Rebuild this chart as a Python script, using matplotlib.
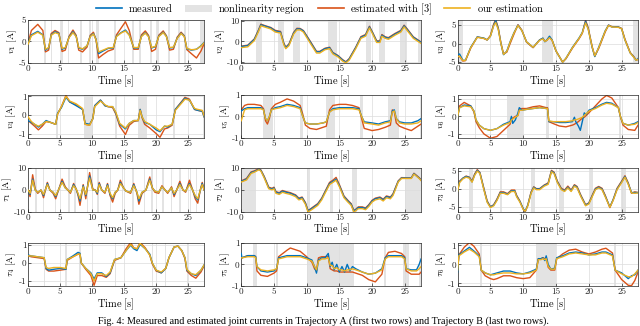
import matplotlib
matplotlib.use('Agg')
import matplotlib.pyplot as plt
from matplotlib.ticker import FuncFormatter
from matplotlib.lines import Line2D
from matplotlib.patches import Patch

plt.rcParams['mathtext.fontset'] = 'cm'
plt.rcParams['axes.unicode_minus'] = False

# colours (MATLAB default order)
c_meas = '#0072BD'
c_est = '#D95319'
c_ours = '#EDB120'
c_region = '#e3e3e3'

# ---------- Trajectory A, joint 1 ----------
t_a1 = [0, 0.5, 1.5, 2.3, 2.7, 3.2, 3.6, 4.2, 4.8, 5.3, 5.8, 6.4, 7.0, 7.5, 7.9, 8.5, 9.2, 9.7, 10.2, 10.6,
        11.0, 11.7, 12.5, 13.3, 13.8, 14.5, 15.2, 15.8, 16.5, 17.2, 17.7, 18.3, 18.8, 19.3, 19.9, 20.4, 21.1,
        21.6, 22.1, 22.7, 23.3, 23.9, 24.4, 24.8, 25.5, 26.3, 27.0, 27.5]
meas_a1 = [-0.5, 1.5, 2.3, 1.5, -2.0, -1.5, 1.5, 2.2, 1.8, -1.8, -1.5, 1.0, 2.2, 1.2, -1.5, -1.8, -1.0, 1.2, 1.8, 0.5,
           -2.8, -2.2, -1.6, -1.5, 1.2, 2.0, 2.6, 1.5, -1.5, -1.5, 1.2, 2.0, 1.2, -1.5, -1.2, 1.2, 2.1,
           1.2, -1.5, -1.4, 0.8, 1.9, 1.2, -1.7, -2.0, -1.8, -1.0, -0.2]
est_a1 = [-0.3, 2.5, 3.9, 2.5, -2.4, -2.0, 1.8, 2.5, 2.0, -2.3, -2.0, 1.2, 2.6, 1.4, -2.0, -2.4, -1.3, 1.4, 2.1, 0.4,
          -3.8, -3.0, -2.2, -1.8, 1.5, 3.0, 4.5, 2.5, -1.8, -1.8, 1.5, 2.4, 1.4, -2.3, -1.8, 1.4, 2.4,
          1.3, -2.0, -1.8, 1.0, 2.1, 1.3, -1.9, -2.8, -3.8, -2.2, -0.5]
ours_a1 = [-0.6, 1.3, 2.1, 1.4, -1.8, -1.4, 1.4, 2.0, 1.7, -1.6, -1.4, 0.9, 2.0, 1.1, -1.4, -1.7, -1.0, 1.1, 1.7, 0.4,
           -2.4, -2.0, -1.5, -1.4, 1.1, 1.9, 2.4, 1.4, -1.4, -1.4, 1.1, 1.9, 1.1, -1.4, -1.1, 1.1, 2.0,
           1.1, -1.4, -1.3, 0.7, 1.8, 1.1, -1.6, -1.9, -1.8, -1.1, -0.3]
reg_a1 = [(2.5, 2.8), (3.5, 3.8), (5.2, 5.5), (6.2, 6.4), (8.1, 8.4), (9.5, 9.8), (10.6, 11.1), (13.4, 13.8),
          (16.3, 16.6), (17.3, 17.6), (19.1, 19.4), (20.2, 20.5), (21.9, 22.1), (23.4, 23.7), (24.4, 24.6),
          (26.9, 27.5)]

# ---------- Trajectory A, joint 2 ----------
t_a2 = [0, 1, 2, 2.6, 3, 3.5, 4.5, 5.2, 6, 6.5, 6.8, 7.3, 8, 8.5, 9, 9.5, 10.5, 11.5, 12, 12.8, 13.5, 14,
        14.8, 15.5, 16, 16.5, 17.5, 18.3, 19, 19.6, 20.1, 20.7, 21.2, 21.5, 22, 22.5, 23.5, 24.4, 24.9, 25.3,
        26.3, 27.5]
meas_a2 = [-2.5, -2, 1, 5, 8, 7.5, 6.5, 5, 4.5, -1, -3, -1.5, 4, 6, 6, 5, 0, -5, -5, -3.5, -3, -5.5,
           -7, -9, -10, -8.5, -3, 2, 3, 7, 4, 0, 0, 3, 2, 1.5, 3.5, 5, 7.5, 6, 2, -0.5]
est_a2 = [-2.3, -1.8, 1.2, 5.3, 8.3, 7.7, 6.7, 5.3, 4.8, -0.8, -2.8, -1.2, 4.3, 6.3, 6.2, 5.2, 0.3, -4.8, -4.8,
          -3.3, -2.8, -5.3, -6.8, -8.8, -9.8, -8.3, -2.8, 2.3, 3.3, 7.3, 4.2, 0.3, 0.2, 3.3, 2.2, 1.8, 3.8,
          5.3, 7.8, 6.3, 2.2, -0.3]
ours_a2 = [-3, -2.6, 0.4, 4.5, 7.5, 7, 6, 4.5, 4, -1.6, -3.5, -2, 3.5, 5.5, 5.5, 4.5, -0.6, -5.6, -5.6, -4,
           -3.5, -6, -7.5, -9.5, -10.3, -9, -3.5, 1.5, 2.5, 6.5, 3.5, -0.5, -0.5, 2.5, 1.5, 1, 3, 4.5, 7,
           5.5, 1.5, -1]
reg_a2 = [(2.2, 3.1), (5.6, 6.6), (7.9, 9.0), (13.3, 14.6), (19.0, 19.8), (21.0, 22.0), (24.3, 25.3),
          (27.0, 27.5)]

# ---------- Trajectory A, joint 3 ----------
t_a3 = [0, 0.3, 0.8, 1.2, 2, 3, 4, 4.5, 5, 5.5, 5.8, 6.2, 6.6, 7, 7.5, 8, 8.6, 9.2, 9.8, 10.5, 11.5, 12.5,
        13, 13.3, 13.6, 14, 14.4, 15, 15.5, 16, 16.5, 17.5, 18.5, 19, 19.5, 19.9, 20.5, 20.9, 21.5, 22.5, 23,
        23.5, 24.5, 25, 25.5, 26.3, 26.8, 27.2, 27.5]
meas_a3 = [-3, -2.8, -4.5, -4.5, -1, 1.8, 1.5, 1, 2, 5, 6.2, 4, 0, -3, -2, 0.5, 3, 5, 3.5, 0.5, -1, 1,
           1.5, 0.5, 1, 2, 1, -2, -3.5, -5, -4, -1, 1.5, 3, 6, 4, -1, -3.5, -1, 3.5, 5,
           4.5, 4.5, 4, 1, -2.5, -3.5, -4.5, -4]
est_a3 = [-3.3, -3.5, -4.7, -4.6, -1.2, 1.8, 1.4, 1, 2.2, 5.3, 6.5, 4.2, 0.2, -2.8, -2.3, 0, 2.6, 5.1, 3.6,
          0.4, -1.1, 1, 1.4, 0.6, 0.9, 1.8, 0.9, -2, -3.5, -5, -4.1, -1.2, 1.3, 2.8, 6.3, 4.3, -0.8, -3.4,
          -1.3, 3.2, 5, 4.6, 4.5, 4.1, 1.2, -2.4, -3.4, -4.4, -4.3]
ours_a3 = [-3.5, -3.4, -4.6, -4.5, -1.1, 1.7, 1.4, 1, 2, 4.8, 5.7, 3.8, 0, -2.9, -2.1, 0.4, 2.9, 4.9, 3.5,
           0.5, -1, 0.9, 1.3, 0.6, 0.9, 1.6, 0.9, -2, -3.5, -5, -4, -1.1, 1.4, 2.9, 5.6, 3.9, -0.9, -3.3,
           -1.1, 3.4, 4.9, 4.5, 4.4, 4, 1, -2.5, -3.6, -4.5, -4.2]
reg_a3 = [(0, 0.8), (12.8, 14.5), (26.8, 27.5)]

# ---------- Trajectory A, joint 4 ----------
t_a4 = [0, 0.5, 1, 1.6, 2.2, 2.8, 3.5, 4.3, 4.6, 5.2, 5.9, 6.5, 7.5, 8.5, 8.9, 9.6, 10.1, 10.4, 11.3, 12,
        12.5, 13.2, 13.7, 14.3, 15.2, 15.8, 16.5, 17.2, 17.5, 17.8, 18.2, 19, 20, 20.6, 21.3, 21.8, 22.5, 23,
        24.5, 25.2, 26, 26.5, 27.2, 27.5]
meas_a4 = [-0.3, -0.4, -0.5, -0.65, -0.5, -0.3, -0.4, -0.5, 0.1, 0.4, 0.95, 0.7, 0.5, 0.3, -0.45, -0.5,
           -0.2, 0.5, 0.8, 0.5, 0.45, 0.45, 0.1, -0.5, -0.75, -0.45, -0.3, -0.3, 0.3, -0.1, -0.4, -0.5,
           -0.8, -0.9, -0.6, -0.65, -0.5, 0.3, 0.9, 0.8, 0.3, 0.25, 0.2, -0.1]
est_a4 = [-0.3, -0.45, -0.6, -0.8, -0.6, -0.35, -0.4, -0.5, 0.05, 0.45, 1.05, 0.7, 0.55, 0.3, -0.5, -0.55,
          -0.2, 0.5, 0.8, 0.5, 0.45, 0.4, 0.05, -0.6, -1.05, -0.55, -0.35, -0.3, 0.3, -0.15, -0.5, -0.7,
          -1.0, -1.2, -0.75, -0.7, -0.55, 0.3, 0.95, 0.85, 0.3, 0.25, 0.2, -0.1]
ours_a4 = [-0.1, -0.35, -0.5, -0.6, -0.5, -0.35, -0.4, -0.5, 0.05, 0.45, 1.0, 0.75, 0.6, 0.35, -0.5, -0.55,
           -0.2, 0.45, 0.75, 0.55, 0.45, 0.45, 0.15, -0.45, -0.7, -0.45, -0.3, -0.3, 0.25, -0.1, -0.35, -0.5,
           -0.7, -0.85, -0.6, -0.6, -0.5, 0.25, 0.85, 0.8, 0.35, 0.3, 0.25, -0.05]
reg_a4 = [(4.4, 4.6), (8.8, 10.2), (13.6, 13.9), (17.1, 18.6), (22.7, 23.0), (27.3, 27.5)]

# ---------- Trajectory A, joint 5 ----------
t_a5 = [0, 0.5, 1, 2, 3, 3.4, 3.7, 4, 4.3, 4.6, 5.2, 6, 7, 8, 9, 9.4, 9.8, 10.5, 11.5, 12.5, 13, 13.5, 14,
        15, 16, 17, 18, 18.4, 18.8, 20, 21, 22, 22.8, 23.1, 23.4, 23.7, 24.2, 25, 26, 27, 27.5]
meas_a5 = [0.25, 0.35, 0.4, 0.4, 0.4, 0.3, -0.1, -0.2, 0, 0.3, 0.4, 0.45, 0.55, 0.5, 0.4, 0, -0.3, -0.35,
           -0.35, -0.3, -0.25, 0.2, 0.35, 0.4, 0.4, 0.4, 0.35, 0, -0.25, -0.3, -0.35, -0.25, -0.2, 0.25,
           0.3, -0.1, -0.25, -0.3, -0.3, -0.2, -0.1]
est_a5 = [0.3, 0.5, 0.55, 0.55, 0.5, 0.35, -0.2, -0.35, -0.1, 0.35, 0.55, 0.65, 0.8, 0.7, 0.5, 0.1, -0.4,
          -0.55, -0.6, -0.5, -0.45, 0.3, 0.5, 0.55, 0.55, 0.5, 0.4, -0.1, -0.55, -0.65, -0.6, -0.5, -0.4,
          0.3, 0.2, -0.3, -0.45, -0.55, -0.65, -0.45, -0.35]
ours_a5 = [-0.2, 0.3, 0.35, 0.35, 0.35, 0.3, -0.1, -0.2, 0, 0.3, 0.35, 0.4, 0.5, 0.45, 0.35, 0, -0.3, -0.35,
           -0.35, -0.3, -0.25, 0.2, 0.3, 0.35, 0.35, 0.35, 0.3, 0, -0.3, -0.35, -0.4, -0.3, -0.25, 0.2,
           0.25, -0.1, -0.3, -0.35, -0.35, -0.3, -0.2]
reg_a5 = [(3.3, 4.9), (9.0, 9.4), (13.0, 14.4), (18.1, 18.6), (22.4, 24.1), (27.3, 27.5)]

# ---------- Trajectory A, joint 6 ----------
t_a6 = [0, 0.3, 1, 2, 2.5, 2.8, 3.3, 4, 5, 6, 7, 8, 8.2, 8.4, 8.8, 9.2, 9.4, 9.8, 10.5, 11.5, 12.5, 13.5,
        13.7, 13.9, 14.5, 15.5, 16.5, 17.5, 17.8, 18, 18.4, 18.7, 19, 19.3, 19.6, 20, 21, 22, 22.7, 23.5,
        24.5, 24.8, 25.2, 26, 27, 27.5]
meas_a6 = [0, 0.5, 0.65, 0.6, 0.3, -0.2, -0.5, -0.7, -0.8, -0.7, -0.45, -0.3, 0, -0.4, -0.2, 0.2, 0.5, 0.35,
           0.4, 0.45, 0.5, 0.45, 0.45, -0.3, -0.3, -0.35, -0.35, -0.3, -0.05, -0.3, -0.55, -0.8, -0.3, 0.2,
           0.1, 0.35, 0.5, 0.7, 0.8, 0.75, 0.5, 0, -0.4, -0.5, -0.4, -0.3]
est_a6 = [0, 0.6, 0.8, 0.6, 0.25, -0.3, -0.65, -1.0, -1.25, -1.15, -0.8, -0.45, -0.15, -0.1, 0, 0.05, 0.4,
          0.45, 0.45, 0.55, 0.6, 0.5, 0.5, -0.3, -0.4, -0.55, -0.6, -0.5, -0.45, -0.4, -0.3, -0.2, -0.1,
          -0.05, 0.05, 0.2, 0.6, 1.0, 1.2, 1.05, 0.5, 0, -0.5, -0.75, -0.8, -0.5]
ours_a6 = [0, 0.5, 0.6, 0.55, 0.3, -0.2, -0.5, -0.7, -0.8, -0.7, -0.5, -0.35, -0.2, -0.15, -0.05, 0.05, 0.35,
           0.35, 0.4, 0.45, 0.5, 0.45, 0.45, -0.25, -0.3, -0.3, -0.3, -0.25, -0.2, -0.2, -0.15, -0.1, -0.05,
           0.05, 0.15, 0.3, 0.45, 0.65, 0.75, 0.7, 0.5, 0, -0.4, -0.5, -0.45, -0.35]
reg_a6 = [(2.6, 2.8), (7.5, 10.0), (13.5, 13.9), (17.2, 19.8), (24.6, 24.9)]

# ---------- Trajectory B, joint 1 ----------
t_b1 = [0, 0.3, 0.7, 1.1, 1.5, 2, 2.4, 3, 3.4, 3.9, 4.3, 4.8, 5.3, 5.8, 6.2, 6.6, 7.1, 7.5, 7.8, 8.1, 8.6,
        9, 9.6, 10.1, 10.5, 10.8, 11.1, 11.5, 12, 12.4, 12.8, 13.2, 13.6, 14, 14.4, 14.9, 15.3, 16, 16.5,
        17, 17.3, 17.8, 18.4, 19, 19.4, 19.8, 20.4, 20.9, 21.4, 21.8, 22.4, 22.8, 23.2, 23.7, 24.2, 24.6,
        25.2, 25.7, 26.1, 26.5, 26.9, 27.2, 27.5]
meas_b1 = [0, -2, 5, 0, -1, 0, -2.5, 3, 0, -1, -3, 0.5, 4, 1, 0, -1, 2.5, 0.5, -2, -5, 2,
           -2.5, 6.5, 0, 0, -1.5, 3, 0, -1, 2.5, -2, -4, -1, 0, 3.5, 1, -0.5, -1, 2.5,
           -1, -5, -1, 0, 5, 1, -0.5, -1, 1.5, 0, -1, 1, -2, 0, 3, 0, -0.5,
           3, 0, -3, -4.5, 0, 3, 0]
est_b1 = [0, -3, 7, 0.5, -1.5, 0, -3.5, 3.5, 0, -1.5, -4, 0.5, 5, 1.5, 0, -1.5, 3, 0.5, -2.5, -7, 2.5,
          -4, 8, 0.5, 0, -2, 3.5, 0, -1.5, 3, -2.5, -5.5, -1.5, 0, 4.5, 1, -0.5, -1.5, 3,
          -1.5, -6.5, -1.5, 0, 6, 1, -1, -1.5, 2, 0, -1.5, 1.5, -3, 0, 4, 0, -1,
          4.5, 0, -4, -6, 0, 3.5, 0]
ours_b1 = [0, -1.5, 4.5, 0, -1, 0, -2, 2.5, 0, -1, -2.5, 0.5, 3.5, 1, 0, -1, 2, 0.5, -1.5, -4, 1.5,
           -2, 5.5, 0, 0, -1, 2.5, 0, -1, 2, -1.5, -3.5, -1, 0, 3, 1, -0.5, -1, 2,
           -1, -4, -1, 0, 4.5, 1, -0.5, -1, 1.5, 0, -1, 1, -1.5, 0, 2.5, 0, -0.5,
           2.5, 0, -2.5, -4, 0, 2.5, 0]
reg_b1 = [(1.1, 1.4), (2.3, 2.5), (4.2, 4.4), (6.3, 6.5), (7.2, 7.4), (9.2, 9.4), (10.8, 11.0), (12.8, 13.0),
          (14.6, 14.8), (16.3, 16.5), (18.1, 18.3), (19.2, 19.5), (20.9, 21.2), (22.3, 22.5), (23.6, 23.9),
          (25.3, 25.5), (26.2, 26.4)]

# ---------- Trajectory B, joint 2 ----------
t_b2 = [0, 0.8, 1.5, 2, 2.7, 3, 3.5, 4.2, 4.7, 5, 5.3, 5.8, 6.3, 6.8, 7.5, 8.3, 8.8, 9.3, 9.8, 10.2, 10.5,
        11, 11.7, 12.3, 12.8, 13.5, 14, 14.5, 15, 15.7, 16.3, 16.8, 17.2, 17.5, 17.9, 18.5, 19, 19.5, 20,
        20.5, 21.2, 21.7, 22.2, 22.8, 23.2, 23.6, 24, 24.5, 25.5, 26, 26.4, 26.8, 27.2, 27.5]
meas_b2 = [4, 5, 8, 8.5, 9.5, 9, 6, 1, 0.5, 1, -1, -1.5, -0.5, -1, -1.5, -2.5, -4, -3.5, -6, -9.5, -9,
           -8, -6.5, -4, -1, 3, 4, 5, 2, -3, -5, -6.5, -9.5, -9, -8, -8, -8.5, -7, -5,
           -4, -3.5, -4.5, -3, -3.5, -2, 1, 4, 5.5, 5.5, 5.5, 7.5, 6.5, 5.5, 4.5]
est_b2 = [4.2, 5.3, 8.3, 8.8, 9.8, 9.2, 6.3, 1.3, 0.8, 1.3, -0.7, -1.2, -0.2, -0.7, -1.2, -2.2, -3.7, -3.2,
          -5.7, -9.3, -8.8, -7.7, -6.2, -3.7, -0.7, 3.5, 4.5, 5.8, 2.5, -2.7, -4.7, -6.2, -9.3, -8.8, -7.7,
          -7.7, -8.2, -6.7, -4.7, -3.7, -3.2, -4.2, -2.7, -3.2, -1.7, 1.3, 4.2, 5.7, 5.6, 5.6, 7.7, 6.7,
          5.7, 4.7]
ours_b2 = [3.7, 4.6, 7.6, 8.2, 9.3, 8.7, 5.6, 0.6, 0.1, 0.6, -1.5, -2, -1, -1.5, -2, -3, -4.5, -4, -6.5,
           -10, -9.5, -8.5, -7, -4.5, -1.5, 2.5, 3.5, 4.5, 1.5, -3.5, -5.5, -7, -10, -9.5, -8.5, -8.5, -9,
           -7.5, -5.5, -4.5, -4, -5, -3.5, -4, -2.5, 0.5, 3.7, 5.3, 5.3, 5.3, 7.3, 6.3, 5.3, 4.3]
reg_b2 = [(0, 2.3), (10.0, 10.5), (13.6, 14.1), (17.0, 17.7), (25.0, 27.5)]

# ---------- Trajectory B, joint 3 ----------
t_b3 = [0, 0.3, 0.8, 1.3, 1.8, 2.2, 2.6, 3, 3.4, 4, 4.5, 5, 5.5, 6, 6.5, 7, 7.6, 8.2, 8.7, 9, 9.5, 10,
        10.3, 10.7, 11.2, 11.6, 12, 12.5, 13.2, 13.8, 14.3, 14.7, 15.2, 15.8, 16.3, 16.8, 17.3, 17.8, 18.2,
        18.8, 19.5, 20, 20.5, 21, 21.5, 22, 22.5, 23.2, 23.7, 24.3, 25, 25.5, 26, 26.5, 27, 27.5]
meas_b3 = [-0.5, 2, 3, 3.5, 3.2, 2, 4, 5.2, 4.5, 0, -3.5, -5, -4.5, -3, -1, -1, -1.5, -0.5, -0.5, -2, -3.5,
           -5.5, -6.2, -4.5, -1, 0.5, 0, 0, 1, 1.5, 5, 4.5, 2, 0, -0.5, 0.5, -0.5, 1, 0.5,
           -2, -4.5, -4, -2, 0, 0.5, 0, -2, -5, -3, 0, 2, 3.5, 1.5, -1, -1, -1]
est_b3 = [-0.3, 2.2, 3, 3.6, 3.3, 2.2, 4.2, 5.4, 4.6, 0.2, -3.3, -5, -4.4, -2.8, -0.8, -0.8, -1.3, -0.3,
          -0.3, -1.8, -3.4, -5.6, -6.4, -4.5, -0.8, 0.6, 0.1, 0.1, 1.1, 1.7, 5.2, 4.7, 2.2, 0.2, -0.3, 0.8,
          -0.3, 1.2, 0.7, -1.8, -4.4, -3.9, -1.8, 0.2, 0.7, 0.2, -1.8, -5.2, -3, 0.2, 2.2, 3.7, 1.7, -1.2,
          -0.8, -1]
ours_b3 = [-0.6, 1.8, 2.8, 3.3, 3.0, 1.9, 3.8, 5.0, 4.3, -0.2, -3.7, -5.2, -4.7, -3.2, -1.2, -1.2, -1.6, -0.7,
           -0.7, -2.2, -3.7, -5.7, -6.2, -4.7, -1.2, 0.3, -0.2, -0.2, 0.8, 1.3, 4.8, 4.3, 1.8, -0.2, -0.7,
           0.3, -0.7, 0.8, 0.3, -2.2, -4.7, -4.2, -2.2, -0.2, 0.3, -0.2, -2.2, -5.1, -3.2, -0.2, 1.8, 3.3,
           1.3, -1.1, -1.2, -1.1]
reg_b3 = [(1.8, 2.3), (6.5, 6.8), (11.2, 11.8), (15.5, 16.2), (20.2, 20.7), (24.9, 25.6)]

# ---------- Trajectory B, joint 4 ----------
t_b4 = [0, 0.5, 1.5, 2.5, 2.8, 3.2, 4, 5, 5.9, 6.1, 7, 7.8, 8.1, 8.3, 9, 9.8, 10.3, 10.8, 11.5, 12.2, 12.8,
        13.5, 14.5, 15.3, 16, 16.5, 17, 17.5, 18.3, 19, 19.4, 20, 20.8, 21.5, 22, 22.8, 23.4, 24, 24.5, 24.8,
        25.5, 26.2, 27, 27.5]
meas_b4 = [0.45, 0.4, 0.35, 0.3, -0.3, -0.4, -0.35, -0.3, -0.35, 0.2, 0.4, 0.6, 0.55, 0, -0.3, -0.55, -0.9,
           -0.55, -0.55, -0.75, -0.55, 0.2, 0.3, 0.7, 1.0, 0.8, 0.7, 1.05, 0.8, 0.5, 0, -0.4, -0.55, -0.3,
           0.3, 0.9, 0.95, 0.7, 0.3, -0.4, -0.6, -0.7, -0.4, -0.1]
est_b4 = [0.4, 0.35, 0.3, 0.25, -0.35, -0.45, -0.45, -0.4, -0.35, 0.15, 0.35, 0.5, 0.5, 0, -0.35, -0.7,
          -1.25, -0.7, -0.7, -0.8, -0.6, 0.15, 0.3, 0.8, 1.15, 0.85, 0.8, 1.15, 0.85, 0.45, -0.05, -0.45,
          -0.55, -0.3, 0.3, 0.9, 0.95, 0.7, 0.25, -0.45, -0.7, -0.85, -0.5, -0.15]
ours_b4 = [0.4, 0.4, 0.35, 0.3, -0.25, -0.3, -0.25, -0.25, -0.3, 0.2, 0.35, 0.5, 0.5, 0, -0.3, -0.6, -1.0,
           -0.6, -0.6, -0.7, -0.5, 0.2, 0.3, 0.7, 1.05, 0.85, 0.8, 1.1, 0.8, 0.45, 0, -0.4, -0.5, -0.3,
           0.3, 0.9, 0.95, 0.7, 0.3, -0.35, -0.6, -0.65, -0.4, -0.1]
reg_b4 = [(2.5, 2.7), (5.8, 6.1), (8.0, 8.2), (13.5, 13.8), (19.3, 19.5), (21.4, 21.6), (24.8, 25.0)]

# ---------- Trajectory B, joint 5 ----------
t_b5 = [0, 0.1, 1, 2, 2.2, 2.4, 3, 4, 5, 5.4, 5.7, 7, 7.5, 9, 10, 10.8, 11.2, 11.5, 11.8, 12.3, 12.8, 13.3,
        13.6, 13.9, 14.2, 14.6, 15, 15.4, 15.8, 16.2, 16.6, 17, 17.5, 18.5, 19.5, 20.5, 21.5, 22, 22.5,
        23.5, 24.5, 25, 25.2, 26, 26.8, 27.2, 27.5]
meas_b5 = [0.5, 0.3, 0.4, 0.4, 0.35, -0.1, -0.3, -0.35, -0.3, -0.2, 0.3, 0.4, 0.4, 0.4, 0.3, 0.2, -0.1, -0.4,
           0.2, 0.3, 0.3, 0.5, -0.1, 0.1, -0.25, 0, -0.35, -0.1, -0.35, 0, -0.3, -0.1, -0.2, -0.35, -0.45,
           -0.4, -0.2, 0.3, 0.4, 0.4, 0.4, 0.3, -0.2, -0.25, -0.25, 0, 0.25]
est_b5 = [0.3, 0.3, 0.4, 0.4, 0.35, -0.3, -0.5, -0.55, -0.4, -0.3, 0.35, 0.65, 0.75, 0.6, 0.35, 0.1, -0.2,
          -0.3, 0.3, 0.35, 0.35, 0.35, -0.2, -0.25, -0.3, -0.3, -0.35, -0.35, -0.35, -0.35, -0.35, -0.35,
          -0.4, -0.5, -0.7, -0.8, -0.45, 0.3, 0.55, 0.6, 0.5, 0.35, -0.3, -0.45, -0.45, -0.45, -0.35]
ours_b5 = [0.3, 0.3, 0.35, 0.35, 0.3, -0.1, -0.25, -0.3, -0.25, -0.2, 0.25, 0.35, 0.35, 0.35, 0.25, 0.15,
           -0.1, -0.25, 0.15, 0.25, 0.25, 0.3, -0.05, -0.05, -0.2, -0.15, -0.25, -0.25, -0.3, -0.25, -0.25,
           -0.2, -0.25, -0.35, -0.45, -0.4, -0.25, 0.25, 0.35, 0.35, 0.35, 0.25, -0.2, -0.3, -0.3, -0.2, -0.1]
reg_b5 = [(1.8, 2.4), (5.3, 5.6), (10.0, 17.3), (21.8, 22.2), (24.8, 25.6), (27.1, 27.5)]

# ---------- Trajectory B, joint 6 ----------
t_b6 = [0, 0.2, 1, 1.8, 2.5, 3.3, 3.6, 4.2, 5, 5.5, 6, 7, 8, 9, 10, 11, 12, 12.3, 12.7, 13, 13.3, 13.5,
        13.8, 14.2, 14.8, 15.1, 16, 17, 18, 19, 20, 21, 22, 22.6, 23.6, 24, 25, 26, 26.5, 27, 27.5]
meas_b6 = [-0.4, 0.5, 0.7, 0.9, 0.7, 0.45, -0.3, -0.45, -0.55, -0.5, -0.45, -0.35, -0.35, -0.45, -0.5, -0.4,
           -0.25, 0.3, 0.3, 0.35, 0.2, 0.45, 0, -0.25, -0.2, 0.35, 0.45, 0.6, 0.65, 0.6, 0.5, 0.55, 0.65,
           0.65, 0.5, -0.3, -0.45, -0.75, -0.6, -0.55, -0.3]
est_b6 = [-0.3, 0.5, 0.9, 1.15, 0.95, 0.55, -0.3, -0.6, -0.75, -0.8, -0.75, -0.6, -0.6, -0.7, -0.75, -0.7,
          -0.3, 0.3, 0.3, 0.35, 0.3, 0.35, -0.15, -0.3, -0.3, 0.3, 0.55, 0.75, 0.8, 0.65, 0.55, 0.65, 0.8,
          0.85, 0.6, -0.3, -0.8, -1.1, -1.12, -0.85, -0.4]
ours_b6 = [-0.3, 0.45, 0.65, 0.8, 0.65, 0.4, -0.3, -0.45, -0.55, -0.55, -0.5, -0.45, -0.45, -0.5, -0.5, -0.45,
           -0.3, 0.25, 0.25, 0.3, 0.25, 0.3, -0.1, -0.25, -0.25, 0.3, 0.4, 0.55, 0.6, 0.55, 0.5, 0.5, 0.6,
           0.6, 0.45, -0.3, -0.5, -0.65, -0.65, -0.5, -0.3]
reg_b6 = [(3.4, 3.7), (12.0, 15.0), (23.9, 24.2)]

# panel list: (row, col, data..., ylabel, ylim, yticks)
panels = [
    (0, 0, t_a1, meas_a1, est_a1, ours_a1, reg_a1, r'$v_1$', (-5, 5), [-5, 0, 5]),
    (0, 1, t_a2, meas_a2, est_a2, ours_a2, reg_a2, r'$v_2$', (-10.5, 10.5), [-10, 0, 10]),
    (0, 2, t_a3, meas_a3, est_a3, ours_a3, reg_a3, r'$v_3$', (-5.3, 6.5), [-5, 0, 5]),
    (1, 0, t_a4, meas_a4, est_a4, ours_a4, reg_a4, r'$v_4$', (-1.25, 1.1), [-1, 0, 1]),
    (1, 1, t_a5, meas_a5, est_a5, ours_a5, reg_a5, r'$v_5$', (-1, 1), [-1, 0, 1]),
    (1, 2, t_a6, meas_a6, est_a6, ours_a6, reg_a6, r'$v_6$', (-1.25, 1.25), [-1, 0, 1]),
    (2, 0, t_b1, meas_b1, est_b1, ours_b1, reg_b1, r'$\tau_1$', (-10, 10), [-10, 0, 10]),
    (2, 1, t_b2, meas_b2, est_b2, ours_b2, reg_b2, r'$\tau_2$', (-10, 10), [-10, 0, 10]),
    (2, 2, t_b3, meas_b3, est_b3, ours_b3, reg_b3, r'$\tau_3$', (-6.4, 5.8), [-5, 0, 5]),
    (3, 0, t_b4, meas_b4, est_b4, ours_b4, reg_b4, r'$\tau_4$', (-1.3, 1.15), [-1, 0, 1]),
    (3, 1, t_b5, meas_b5, est_b5, ours_b5, reg_b5, r'$\tau_5$', (-1, 1), [-1, 0, 1]),
    (3, 2, t_b6, meas_b6, est_b6, ours_b6, reg_b6, r'$\tau_6$', (-1.15, 1.15), [-1, 0, 1]),
]

fig = plt.figure(figsize=(6.4, 3.26), dpi=100)

lefts = [0.044, 0.377, 0.715]
widths = [0.275, 0.281, 0.282]
bottoms = [0.806, 0.576, 0.350, 0.122]
height = 0.134

# plain hyphen tick labels in the bundled Computer Modern face
tick_fmt = FuncFormatter(lambda v, p: '%g' % v)

for row, col, t, meas, est, ours, regions, ylab, ylim, yticks in panels:
    ax = fig.add_axes([lefts[col], bottoms[row], widths[col], height])
    for a, b in regions:
        ax.axvspan(a, b, color=c_region, lw=0, zorder=0)
    ax.plot(t, meas, color=c_meas, lw=1.0, zorder=3)
    ax.plot(t, est, color=c_est, lw=1.0, zorder=2)
    ax.plot(t, ours, color=c_ours, lw=1.0, zorder=4)
    ax.set_xlim(0, 27.5)
    ax.set_ylim(*ylim)
    ax.set_xticks([0, 5, 10, 15, 20, 25])
    ax.set_yticks(yticks)
    ax.xaxis.set_major_formatter(tick_fmt)
    ax.yaxis.set_major_formatter(tick_fmt)
    ax.grid(True, color='#dcdcdc', lw=0.5, zorder=1)
    ax.set_axisbelow(True)
    ax.tick_params(direction='in', length=2, width=0.5, labelsize=6.6, pad=1.2, colors='#262626')
    for lbl in ax.get_xticklabels() + ax.get_yticklabels():
        lbl.set_fontfamily('cmr10')
    for s in ax.spines.values():
        s.set_linewidth(0.5)
        s.set_color('#262626')
    ax.set_xlabel(r'$\mathrm{Time\ [s]}$', fontsize=7.5, labelpad=0)
    ax.set_ylabel(ylab + r'$\ [\mathrm{A}]$', fontsize=7, labelpad=0.3)

handles = [
    Line2D([], [], color=c_meas, lw=1.2),
    Patch(facecolor=c_region, edgecolor='none'),
    Line2D([], [], color=c_est, lw=1.2),
    Line2D([], [], color=c_ours, lw=1.2),
]
labels = [r'$\mathrm{measured}$', r'$\mathrm{nonlinearity\ region}$',
          r'$\mathrm{estimated\ with\ [3]}$', r'$\mathrm{our\ estimation}$']
fig.legend(handles, labels, loc='upper center', bbox_to_anchor=(0.5, 1.025), ncol=4, frameon=False,
           fontsize=7.5, handlelength=2.5, columnspacing=1.2, handletextpad=0.6)

fig.text(0.505, 0.008,
         'Fig. 4: Measured and estimated joint currents in Trajectory A (first two rows) and Trajectory B (last two rows).',
         ha='center', va='baseline', fontsize=7.3, family='Liberation Serif')

fig.savefig('out.png', dpi=100)
